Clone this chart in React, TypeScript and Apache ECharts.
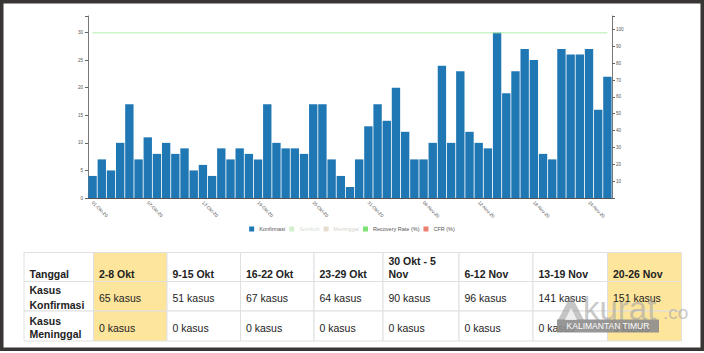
import React, { useEffect, useRef } from "react";
import * as echarts from "echarts";

const categories = [
  "01-Okt-20","02-Okt-20","03-Okt-20","04-Okt-20","05-Okt-20","06-Okt-20","07-Okt-20","08-Okt-20","09-Okt-20","10-Okt-20",
  "11-Okt-20","12-Okt-20","13-Okt-20","14-Okt-20","15-Okt-20","16-Okt-20","17-Okt-20","18-Okt-20","19-Okt-20","20-Okt-20",
  "21-Okt-20","22-Okt-20","23-Okt-20","24-Okt-20","25-Okt-20","26-Okt-20","27-Okt-20","28-Okt-20","29-Okt-20","30-Okt-20",
  "31-Okt-20","01-Nov-20","02-Nov-20","03-Nov-20","04-Nov-20","05-Nov-20","06-Nov-20","07-Nov-20","08-Nov-20","09-Nov-20",
  "10-Nov-20","11-Nov-20","12-Nov-20","13-Nov-20","14-Nov-20","15-Nov-20","16-Nov-20","17-Nov-20","18-Nov-20","19-Nov-20",
  "20-Nov-20","21-Nov-20","22-Nov-20","23-Nov-20","24-Nov-20","25-Nov-20","26-Nov-20"
];

const konfirmasi = [
  4, 7, 5, 10, 17, 7, 11, 8, 10, 8, 9, 5, 6, 4, 9, 7, 9, 8, 7, 17, 10, 9, 9, 8, 17, 17, 7, 4, 2, 7, 13,
  17, 14, 20, 12, 7, 7, 10, 24, 10, 23, 12, 10, 9, 30, 19, 23, 27, 25, 8, 7, 27, 26, 26, 27, 16, 22
];

const recoveryRate = [
  98, 98, 98, 98, 98, 98, 98, 98, 98, 98, 98, 98, 98, 98, 98, 98, 98, 98, 98, 98,
  98, 98, 98, 98, 98, 98, 98, 98, 98, 98, 98, 98, 98, 98, 98, 98, 98, 98, 98, 98,
  98, 98, 98, 98, 98, 98, 98, 98, 98, 98, 98, 98, 98, 98, 98, 98, 98
];

const cfr = [
  0, 0, 0, 0, 0, 0, 0, 0, 0, 0, 0, 0, 0, 0, 0, 0, 0, 0, 0, 0,
  0, 0, 0, 0, 0, 0, 0, 0, 0, 0, 0, 0, 0, 0, 0, 0, 0, 0, 0, 0,
  0, 0, 0, 0, 0, 0, 0, 0, 0, 0, 0, 0, 0, 0, 0, 0, 0
];

const legendNames = ["Konfirmasi", "Sembuh", "Meninggal", "Recovery Rate (%)", "CFR (%)"];

const tableHeader = ["Tanggal", "2-8 Okt", "9-15 Okt", "16-22 Okt", "23-29 Okt", "30 Okt - 5\nNov", "6-12 Nov", "13-19 Nov", "20-26 Nov"];
const rowKonfirmasiLabel = "Kasus\nKonfirmasi";
const rowMeninggalLabel = "Kasus\nMeninggal";
const weeklyKonfirmasi = [65, 51, 67, 64, 90, 96, 141, 151];
const weeklyMeninggal = [0, 0, 0, 0, 0, 0, 0, 0];
const highlightedCols = [1, 8];

const FONT = "'Liberation Sans', Arial, Helvetica, sans-serif";

export default function App() {
  const ref = useRef<HTMLDivElement>(null);

  useEffect(() => {
    document.body.style.margin = "0";
    const chart = echarts.init(ref.current!, null, { renderer: "svg" });

    const colX = [24, 93.5, 167, 240.5, 314, 383, 459, 533, 607.5, 681.5];
    const rowY = [252.5, 281.5, 311, 341];
    const graphics: any[] = [];

    for (let r = 0; r < 3; r++) {
      for (let c = 0; c < 9; c++) {
        graphics.push({
          type: "rect",
          shape: { x: colX[c], y: rowY[r], width: colX[c + 1] - colX[c], height: rowY[r + 1] - rowY[r] },
          style: { fill: highlightedCols.includes(c) ? "#fde59c" : "#ffffff", stroke: "#e0e0e0", lineWidth: 1 },
          z: 1,
        });
      }
    }
    const textBase = { fontFamily: FONT, fill: "#222" };
    tableHeader.forEach((t, c) => {
      graphics.push({
        type: "text",
        x: colX[c] + 5.5,
        y: 279.8,
        z: 2,
        style: { ...textBase, text: t, fontSize: 10.5, fontWeight: "bold", align: "left", verticalAlign: "bottom", lineHeight: 12.6 },
      });
    });
    graphics.push({
      type: "text", x: colX[0] + 5.5, y: 297.5, z: 2,
      style: { ...textBase, text: rowKonfirmasiLabel, fontSize: 10.5, fontWeight: "bold", align: "left", verticalAlign: "middle", lineHeight: 14.5 },
    });
    graphics.push({
      type: "text", x: colX[0] + 5.5, y: 327.5, z: 2,
      style: { ...textBase, text: rowMeninggalLabel, fontSize: 10.5, fontWeight: "bold", align: "left", verticalAlign: "middle", lineHeight: 13.5 },
    });
    weeklyKonfirmasi.forEach((v, i) => {
      graphics.push({
        type: "text", x: colX[i + 1] + 5.5, y: 297.5, z: 2,
        style: { ...textBase, text: v + " kasus", fontSize: 10.5, align: "left", verticalAlign: "middle" },
      });
    });
    weeklyMeninggal.forEach((v, i) => {
      graphics.push({
        type: "text", x: colX[i + 1] + 5.5, y: 327.5, z: 2,
        style: { ...textBase, text: v + " kasus", fontSize: 10.5, align: "left", verticalAlign: "middle" },
      });
    });

    // watermark
    graphics.push({
      type: "polygon", z: 10,
      shape: { points: [[558, 320], [571, 295], [584, 320]] },
      style: { fill: "rgba(150,150,150,0.55)" },
    });
    graphics.push({
      type: "polygon", z: 11,
      shape: { points: [[565, 320], [571, 308], [577, 320]] },
      style: { fill: "rgba(255,255,255,0.7)" },
    });
    graphics.push({
      type: "text", x: 583, y: 308, z: 10,
      style: { text: "kurat", fontFamily: FONT, fontSize: 33, fill: "rgba(165,165,165,0.6)", align: "left", verticalAlign: "middle" },
    });
    graphics.push({
      type: "text", x: 663, y: 312, z: 10,
      style: { text: ".co", fontFamily: FONT, fontSize: 19, fill: "rgba(165,165,165,0.6)", align: "left", verticalAlign: "middle" },
    });
    graphics.push({
      type: "rect", z: 10,
      shape: { x: 557, y: 319.5, width: 102, height: 13 },
      style: { fill: "rgba(140,140,140,0.9)" },
    });
    graphics.push({
      type: "text", x: 608, y: 326.3, z: 11,
      style: { text: "KALIMANTAN TIMUR", fontFamily: FONT, fontSize: 8.5, fill: "#ffffff", align: "center", verticalAlign: "middle" },
    });

    // frame
    graphics.push({
      type: "rect", z: 20,
      shape: { x: 1.75, y: 1.75, width: 700.5, height: 347.5 },
      style: { fill: "none", stroke: "#3a3535", lineWidth: 3.5 },
    });

    const axisLabelStyle = { fontSize: 4.6, color: "#555", fontFamily: FONT };

    chart.setOption({
      animation: false,
      backgroundColor: "#ffffff",
      textStyle: { fontFamily: FONT },
      grid: { left: 88, right: 92, top: 16, bottom: 155, containLabel: false },
      legend: {
        top: 226,
        left: "center",
        icon: "rect",
        itemWidth: 5,
        itemHeight: 5,
        itemGap: 4,
        padding: 0,
        textStyle: { fontSize: 5.5, color: "#555", fontFamily: FONT },
        selectedMode: false,
        data: [
          { name: legendNames[0], itemStyle: { color: "#1f77b4" } },
          { name: legendNames[1], itemStyle: { color: "#d3f0cc" }, textStyle: { color: "#d6e2d3" } },
          { name: legendNames[2], itemStyle: { color: "#e6ddce" }, textStyle: { color: "#d8d2cb" } },
          { name: legendNames[3], itemStyle: { color: "#7ee277" } },
          { name: legendNames[4], itemStyle: { color: "#ec7f70" } },
        ],
      },
      xAxis: {
        type: "category",
        data: categories,
        boundaryGap: true,
        axisLine: { lineStyle: { color: "#555", width: 1 } },
        axisTick: { alignWithLabel: true, interval: 0, length: 3, lineStyle: { color: "#555" } },
        axisLabel: { ...axisLabelStyle, interval: 5, rotate: -45, margin: 4 },
        z: 5,
      },
      yAxis: [
        {
          type: "value",
          min: 0,
          max: 33,
          interval: 5,
          axisLine: { show: true, lineStyle: { color: "#777" } },
          axisTick: { show: true, length: 3, lineStyle: { color: "#666" } },
          splitLine: { show: false },
          axisLabel: { ...axisLabelStyle, margin: 5, formatter: (v: number) => (v % 5 === 0 ? String(v) : "") },
        },
        {
          type: "value",
          min: 0,
          max: 108,
          interval: 10,
          position: "right",
          axisLine: { show: true, lineStyle: { color: "#777" } },
          axisTick: { show: true, length: 3, lineStyle: { color: "#666" } },
          splitLine: { show: false },
          axisLabel: { ...axisLabelStyle, margin: 4, formatter: (v: number) => (v > 0 && v % 10 === 0 ? String(v) : "") },
        },
      ],
      series: [
        {
          name: "CFR (%)",
          type: "line",
          yAxisIndex: 1,
          data: cfr,
          showSymbol: false,
          color: "#ec7f70",
          lineStyle: { color: "#ec7f70", width: 1, opacity: 0.15 },
          z: 1,
        },
        {
          name: "Konfirmasi",
          type: "bar",
          data: konfirmasi,
          color: "#1f77b4",
          barCategoryGap: "9%",
          itemStyle: { color: "#1f77b4" },
          z: 3,
        },
        { name: "Sembuh", type: "line", data: [], color: "#d3f0cc" },
        { name: "Meninggal", type: "line", data: [], color: "#e6ddce" },
        {
          name: "Recovery Rate (%)",
          type: "line",
          yAxisIndex: 1,
          data: recoveryRate,
          showSymbol: false,
          color: "#7ee277",
          lineStyle: { color: "#b2eeaa", width: 1 },
          z: 4,
        },
      ],
      graphic: { elements: graphics },
    });

    return () => chart.dispose();
  }, []);

  return <div ref={ref} style={{ width: 704, height: 353 }} />;
}
